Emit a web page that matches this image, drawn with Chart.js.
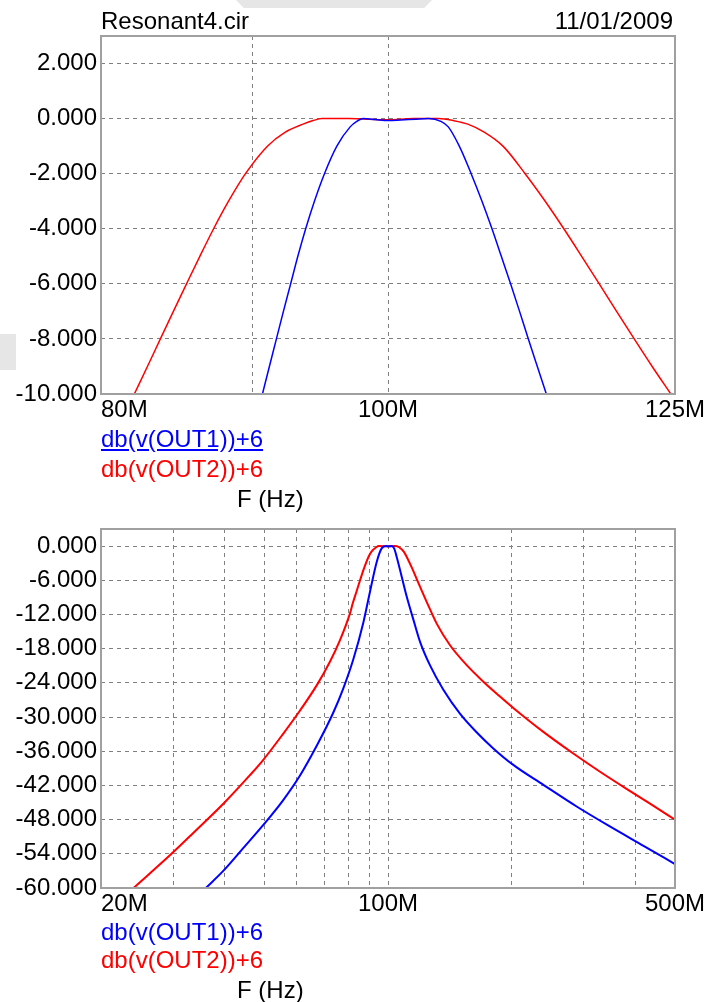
<!DOCTYPE html>
<html>
<head>
<meta charset="utf-8">
<script src="https://cdn.jsdelivr.net/npm/chart.js@4.4.1/dist/chart.umd.min.js"></script>
<style>
  body { margin: 0; background: #fff; width: 718px; height: 1002px; position: relative; overflow: hidden;
         font-family: "Liberation Sans", Arial, sans-serif; }
  canvas { position: absolute; left: 0; }
  .txt { position: absolute; font-size: 24px; line-height: 24px; white-space: nowrap; color: #000; }
  .blue { color: #0000ff; }
  .red { color: #ff0000; }
  .mark { position: absolute; background: #e6e6e6; }
</style>
</head>
<body>
<div class="mark" style="left:236px;top:0;width:196px;height:8px;clip-path:polygon(0 0,100% 0,96% 100%,4% 100%);"></div>
<div class="mark" style="left:0;top:334px;width:16px;height:36px;"></div>

<canvas id="topChart" width="718" height="440" style="top:0"></canvas>
<canvas id="bottomChart" width="718" height="420" style="top:500px"></canvas>

<div class="txt" style="left:101px;top:9px">Resonant4.cir</div>
<div class="txt" style="right:45px;top:9px">11/01/2009</div>
<div class="txt blue" style="left:101px;top:427px;text-decoration:underline">db(v(OUT1))+6</div>
<div class="txt red" style="left:101px;top:457px">db(v(OUT2))+6</div>
<div class="txt" style="left:237px;top:487px">F (Hz)</div>

<div class="txt blue" style="left:101px;top:920px">db(v(OUT1))+6</div>
<div class="txt red" style="left:101px;top:948px">db(v(OUT2))+6</div>
<div class="txt" style="left:237px;top:978px">F (Hz)</div>

<script>
// frequencies in MHz, levels in dB

// top plot (80M .. 125M)
const topBlueFreq = [90.7, 91.19, 91.69, 92.19, 92.71, 93.23, 93.8, 94.44, 95.18, 96.1, 97.1, 97.6, 98.1, 99.0, 100.0, 101.0, 102.2, 103.2, 104.2, 104.8, 105.7, 106.68, 107.58, 108.42, 109.21, 110.0, 110.77, 111.53, 112.31, 113.1];
const topBlueDb   = [-10, -9, -8, -7, -6, -5, -4, -3, -2, -1, -0.3, -0.1, 0, -0.03, -0.07, -0.05, -0.02, 0, -0.1, -0.3, -1, -2, -3, -4, -5, -6, -7, -8, -9, -10];
const topRedFreq  = [82.1, 82.94, 83.78, 84.63, 85.5, 86.39, 87.32, 88.34, 89.51, 91.05, 92.3, 93.61, 94.34, 95.0, 97.0, 100.0, 102.0, 104.0, 105.2, 106.4, 107.8, 109.35, 111.25, 113.0, 114.65, 116.25, 117.85, 119.45, 121.1, 122.8, 124.6];
const topRedDb    = [-10, -9, -8, -7, -6, -5, -4, -3, -2, -1, -0.5, -0.2, -0.07, 0, 0, -0.04, 0, 0, -0.07, -0.2, -0.5, -1, -2, -3, -4, -5, -6, -7, -8, -9, -10];

// bottom plot (20M .. 500M)
const botBlueFreq = [36.0, 39.7, 44.4, 50.0, 55.4, 61.0, 67.1, 73.6, 77.8, 82.3, 87.1, 90.4, 93.9, 96.5, 98.9, 100.0, 102.1, 103.5, 105.0, 111.1, 115.3, 119.7, 126.5, 136.4, 149.7, 165.0, 180.5, 201.9, 239, 288, 347, 419, 500];
const botBlueDb   = [-60, -57, -53.0, -48.7, -44.7, -40.3, -35.0, -29.2, -25.0, -19.9, -13.4, -8.0, -2.75, -0.4, 0, -0.05, 0, -0.4, -1.9, -8.9, -12.9, -16.8, -20.9, -25.2, -29.4, -32.8, -35.5, -38.4, -41.9, -45.7, -49.2, -52.6, -55.8];
const botRedFreq  = [24.0, 29.7, 33.6, 40.1, 46.1, 49.7, 55.6, 61.0, 67.1, 72.2, 76.4, 80.8, 82.1, 83.78, 85.5, 87.32, 89.51, 91.05, 93.61, 95.0, 100.0, 104.0, 106.4, 109.35, 111.25, 114.65, 117.85, 121.1, 124.6, 131.4, 141.6, 155.5, 170.7, 187.4, 201.9, 239, 282.7, 328.4, 381, 434.7, 500];
const botRedDb    = [-60, -54, -50.3, -44.9, -40.2, -37.5, -32.9, -28.9, -24.4, -20.3, -16.5, -11.8, -10, -8, -6, -4, -2, -1, -0.2, 0, -0.04, 0, -0.2, -1, -2, -4, -6, -8, -10, -13.6, -17.4, -20.9, -23.8, -26.4, -28.4, -32.6, -36.4, -39.6, -42.6, -45.2, -48.0];

const topXGrid = [80, 90, 100, 125];
const topXLabels = [80, 100, 125];
const botXGrid = [20, 30, 40, 50, 60, 70, 80, 90, 100, 200, 300, 400, 500];
const botXLabels = [20, 100, 500];

const FONT = '"Liberation Sans", Arial, sans-serif';

function pairs(xs, ys) {
  return xs.map(function(x, i) { return {x: x, y: ys[i]}; });
}

// grey frame round the plot and the x labels (first one starts at the left edge)
const framePlugin = {
  id: 'frame',
  afterDraw: function(chart, args, opts) {
    const ctx = chart.ctx;
    const a = chart.chartArea;
    const xs = chart.scales.x;
    ctx.save();
    ctx.strokeStyle = '#a0a0a0';
    ctx.lineWidth = 2;
    ctx.strokeRect(a.left, a.top, a.right - a.left, a.bottom - a.top);
    ctx.fillStyle = '#000';
    ctx.font = '24px ' + FONT;
    ctx.textBaseline = 'alphabetic';
    opts.labels.forEach(function(v, i) {
      ctx.textAlign = i === 0 ? 'left' : 'center';
      ctx.fillText(v + 'M', xs.getPixelForValue(v), a.bottom + 23);
    });
    ctx.restore();
  }
};

function makeChart(id, cfg) {
  return new Chart(document.getElementById(id).getContext('2d'), {
    type: 'line',
    data: {
      datasets: [{
        data: pairs(cfg.blueFreq, cfg.blueDb),
        borderColor: '#0000ff',
        borderWidth: cfg.lineWidth,
        pointRadius: 0,
        cubicInterpolationMode: 'monotone'
      }, {
        data: pairs(cfg.redFreq, cfg.redDb),
        borderColor: '#ff0000',
        borderWidth: cfg.lineWidth,
        pointRadius: 0,
        cubicInterpolationMode: 'monotone'
      }]
    },
    options: {
      responsive: false,
      animation: false,
      layout: { padding: { left: 0, right: 43, top: cfg.padTop, bottom: 0 } },
      plugins: {
        legend: { display: false },
        tooltip: { enabled: false },
        frame: { labels: cfg.xLabels }
      },
      scales: {
        x: {
          type: 'logarithmic',
          min: cfg.xMin,
          max: cfg.xMax,
          afterBuildTicks: function(scale) {
            scale.ticks = cfg.xGrid.map(function(v) { return {value: v}; });
          },
          afterFit: function(scale) { scale.height = cfg.xHeight; },
          ticks: { display: false },
          grid: { color: '#808080', lineWidth: 1, drawTicks: false },
          border: { display: false, dash: [4, 4] }
        },
        y: {
          min: cfg.yMin,
          max: cfg.yMax,
          afterFit: function(scale) { scale.width = 101; },
          ticks: {
            stepSize: cfg.yStep,
            padding: 4,
            color: '#000',
            font: { family: FONT, size: 24 },
            callback: function(v) { return v % cfg.yLabelStep === 0 ? v.toFixed(3) : ''; }
          },
          grid: { color: '#808080', lineWidth: 1, drawTicks: false },
          border: { display: false, dash: [4, 4] }
        }
      }
    },
    plugins: [framePlugin]
  });
}

makeChart('topChart', {
  blueFreq: topBlueFreq, blueDb: topBlueDb, redFreq: topRedFreq, redDb: topRedDb,
  lineWidth: 1.5, xMin: 80, xMax: 125, xGrid: topXGrid, xLabels: topXLabels,
  yMin: -10, yMax: 3, yStep: 1, yLabelStep: 2, padTop: 36, xHeight: 46
});

makeChart('bottomChart', {
  blueFreq: botBlueFreq, blueDb: botBlueDb, redFreq: botRedFreq, redDb: botRedDb,
  lineWidth: 2, xMin: 20, xMax: 500, xGrid: botXGrid, xLabels: botXLabels,
  yMin: -60, yMax: 3, yStep: 3, yLabelStep: 6, padTop: 29, xHeight: 32
});
</script>
</body>
</html>
